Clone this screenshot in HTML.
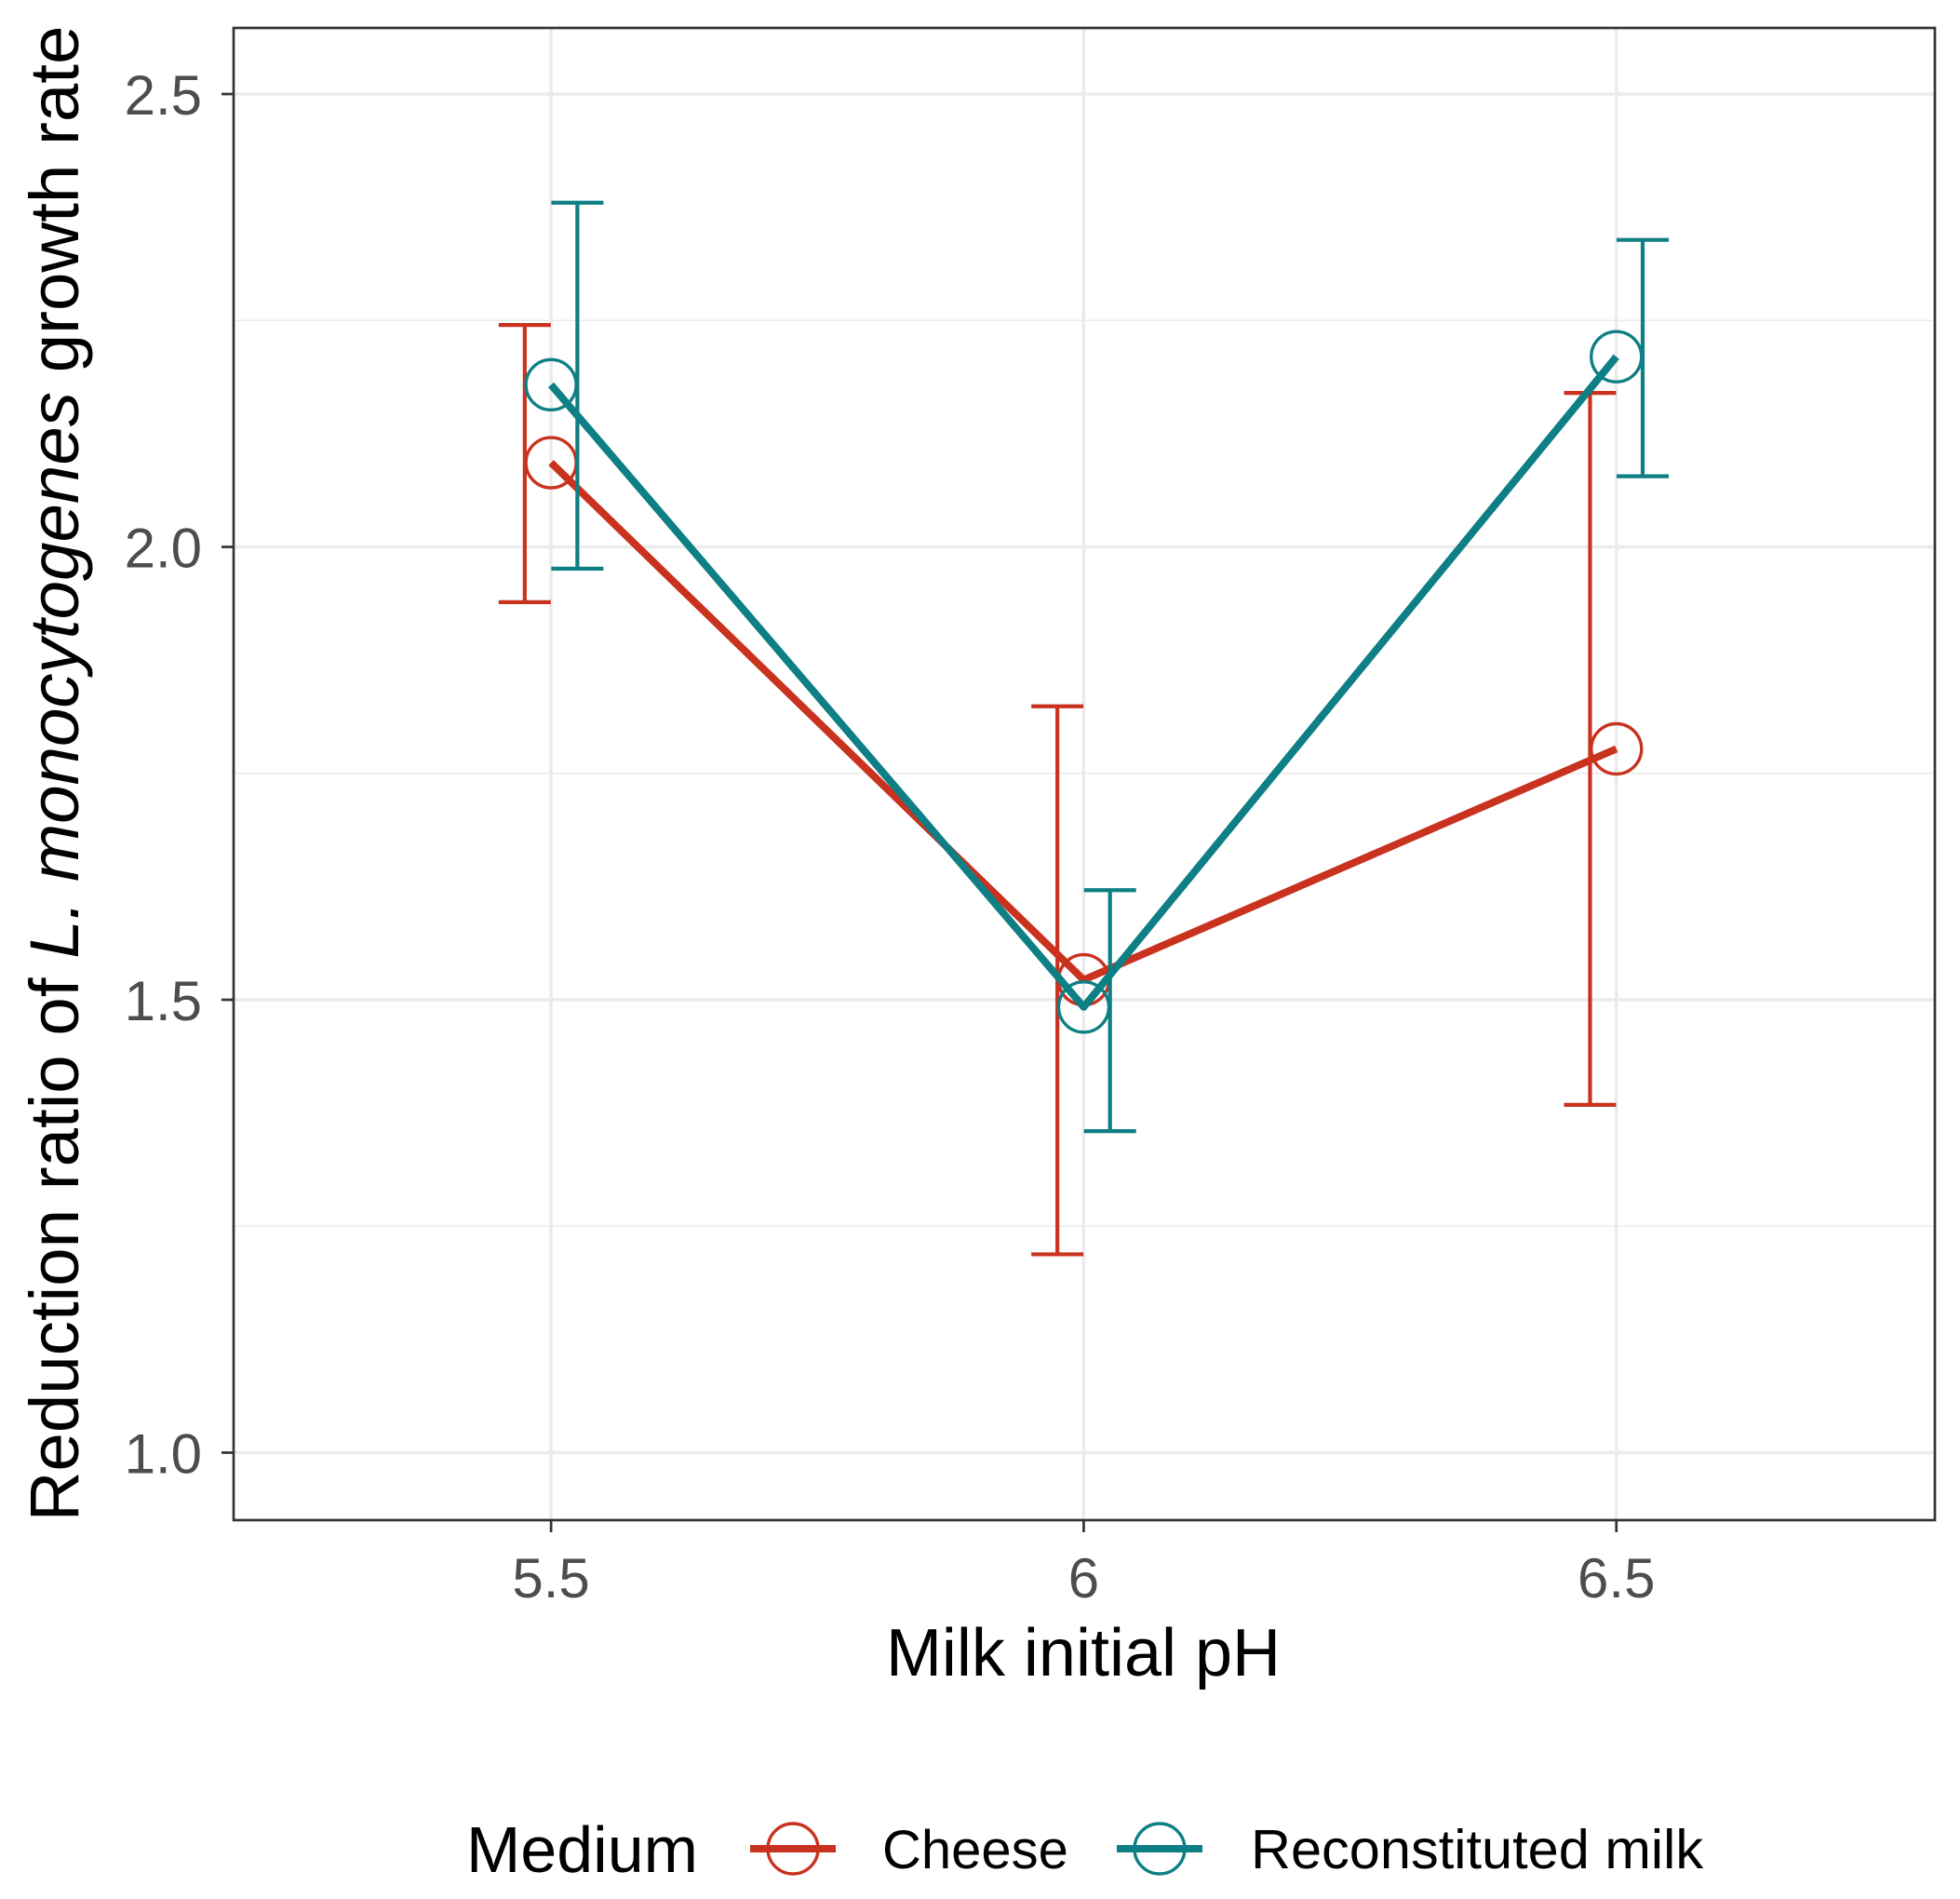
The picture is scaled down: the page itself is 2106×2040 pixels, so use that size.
<!DOCTYPE html>
<html><head><meta charset="utf-8"><style>
html,body{margin:0;padding:0;background:#fff;width:2106px;height:2040px;overflow:hidden}
svg text{font-family:"Liberation Sans",sans-serif}
</style></head><body>
<svg id="chart" width="2106" height="2040" xmlns="http://www.w3.org/2000/svg">
<g id="grid"></g>
<g id="series"></g>
<rect x="251" y="30" width="1828" height="1603" fill="none" stroke="#333" stroke-width="2.7"/>
<g id="axes"></g>
<text x="1164" y="1800" font-size="72" text-anchor="middle" fill="#000">Milk initial pH</text>
<text transform="translate(84,831) rotate(-90)" font-size="74.5" text-anchor="middle" fill="#000">Reduction ratio of <tspan font-style="italic">L. monocytogenes</tspan> growth rate</text>
<g>
<text x="501" y="2011" font-size="70" fill="#000">Medium</text>
<g>
<line x1="806" y1="1986" x2="898" y2="1986" stroke="#c8321e" stroke-width="8"/>
<circle cx="852" cy="1986" r="27" fill="none" stroke="#c8321e" stroke-width="3.4"/>
<text x="948" y="2007" font-size="58" fill="#000">Cheese</text></g>
<g>
<line x1="1200" y1="1986" x2="1292" y2="1986" stroke="#0e7f85" stroke-width="8"/>
<circle cx="1246" cy="1986" r="27" fill="none" stroke="#0e7f85" stroke-width="3.4"/>
<text x="1344" y="2007" font-size="59.5" fill="#000">Reconstituted milk</text></g>
</g>
</svg>
<script>
const categories = [5.5, 6, 6.5];
const xTickLabels = ["5.5", "6", "6.5"];
const yTicks = [1.0, 1.5, 2.0, 2.5];
const yTickLabels = ["1.0", "1.5", "2.0", "2.5"];
const yMinor = [1.25, 1.75, 2.25];
const cheeseMean = [2.093, 1.522, 1.777];
const cheeseLow = [1.939, 1.219, 1.384];
const cheeseHigh = [2.245, 1.824, 2.170];
const milkMean = [2.179, 1.492, 2.210];
const milkLow = [1.976, 1.355, 2.078];
const milkHigh = [2.380, 1.621, 2.339];

const NS = "http://www.w3.org/2000/svg";
const X0 = 251, X1 = 2079, Y0 = 30, Y1 = 1633;
const xMin = 5.202, xMax = 6.799, yMin = 0.9255, yMax = 2.573;
function xs(v){ return X0 + (v - xMin) / (xMax - xMin) * (X1 - X0); }
function ys(v){ return Y1 - (v - yMin) / (yMax - yMin) * (Y1 - Y0); }
function mk(tag, attrs, parent){
  const e = document.createElementNS(NS, tag);
  for (const k in attrs) e.setAttribute(k, attrs[k]);
  parent.appendChild(e);
  return e;
}
const grid = document.getElementById('grid');
const axes = document.getElementById('axes');
const series = document.getElementById('series');

yMinor.forEach(v => {
  const l = mk('line', {x1:X0, x2:X1, y1:ys(v), y2:ys(v), stroke:'#ebebeb', 'stroke-width':1.5}, grid);
  
  
});
yTicks.forEach((v, i) => {
  const l = mk('line', {x1:X0, x2:X1, y1:ys(v), y2:ys(v), stroke:'#ebebeb', 'stroke-width':3.5}, grid);
  
  
  const t = mk('line', {x1:X0-13, x2:X0, y1:ys(v), y2:ys(v), stroke:'#333', 'stroke-width':2.7}, axes);
  
  
  const tx = mk('text', {x:X0-34, y:ys(v)+22, 'font-size':60, 'text-anchor':'end', fill:'#4d4d4d'}, axes);
  tx.textContent = yTickLabels[i];
  
  
});
categories.forEach((v, i) => {
  const l = mk('line', {x1:xs(v), x2:xs(v), y1:Y0, y2:Y1, stroke:'#ebebeb', 'stroke-width':3.5}, grid);
  
  
  const t = mk('line', {x1:xs(v), x2:xs(v), y1:Y1, y2:Y1+13, stroke:'#333', 'stroke-width':2.7}, axes);
  
  
  const tx = mk('text', {x:xs(v), y:1716, 'font-size':60, 'text-anchor':'middle', fill:'#4d4d4d'}, axes);
  tx.textContent = xTickLabels[i];
  
  
});

function drawSeries(name, color, mean, low, high, dodge){
  const g = mk('g', {}, series);
  
  
  const pts = categories.map((c, i) => xs(c) + ',' + ys(mean[i])).join(' ');
  const pl = mk('polyline', {points:pts, fill:'none', stroke:color, 'stroke-width':8, 'stroke-linejoin':'round'}, g);
  
  
  categories.forEach((c, i) => {
    const ex = xs(c + dodge), hw = 28;
    const eb = mk('path', {d:`M${ex-hw},${ys(high[i])}H${ex+hw}M${ex},${ys(high[i])}V${ys(low[i])}M${ex-hw},${ys(low[i])}H${ex+hw}`, fill:'none', stroke:color, 'stroke-width':4.2}, g);
    
    
  });
  categories.forEach((c, i) => {
    const p = mk('circle', {cx:xs(c), cy:ys(mean[i]), r:27, fill:'none', stroke:color, 'stroke-width':3.4}, g);
    
    
  });
}
drawSeries('cheese', '#c8321e', cheeseMean, cheeseLow, cheeseHigh, -0.0247);
drawSeries('reconstituted-milk', '#0e7f85', milkMean, milkLow, milkHigh, 0.0247);
</script>
</body></html>
